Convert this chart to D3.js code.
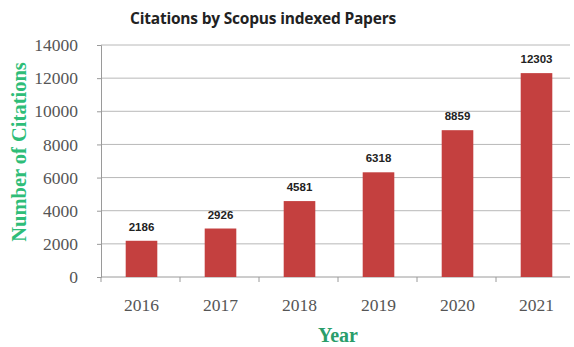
<!DOCTYPE html>
<html><head><meta charset="utf-8">
<script src="https://cdn.jsdelivr.net/npm/d3@7"></script>
<style>body{margin:0;background:#fff}</style>
</head><body>
<svg id="c" width="574" height="347"></svg>
<script>
const years = ["2016","2017","2018","2019","2020","2021"];
const citations = [2186, 2926, 4581, 6318, 8859, 12303];
const yTicks = [0,2000,4000,6000,8000,10000,12000,14000];

const svg = d3.select("#c");
const m = {l:101, r:570, t:45, b:277};
const x = d3.scaleBand().domain(years).range([m.l + 1, m.r + 6]).paddingInner(0.6).paddingOuter(0.3);
const y = d3.scaleLinear().domain([0,14000]).range([m.b, m.t]);

// gridlines
svg.append("g").selectAll("line").data(yTicks.filter(d=>d>0)).join("line")
  .attr("x1", m.l).attr("x2", m.r).attr("y1", d=>y(d)).attr("y2", d=>y(d))
  .attr("stroke", "#b8b8b8").attr("stroke-width", 1);

// y axis
const ya = svg.append("g").attr("transform", `translate(${m.l},0)`)
  .call(d3.axisLeft(y).tickValues(yTicks).tickFormat(d3.format("d")).tickSize(4).tickPadding(19));
ya.select(".domain").attr("stroke", "#9a9a9a");
ya.selectAll(".tick line").attr("stroke", "#9a9a9a");
ya.selectAll("text").attr("font-family", "Liberation Serif, serif").attr("font-size", 17.5).attr("fill", "#555");

// x axis
const step = x.step();
svg.append("line").attr("x1", m.l).attr("x2", m.r).attr("y1", m.b).attr("y2", m.b).attr("stroke", "#9a9a9a");
svg.append("g").selectAll("line").data(d3.range(0,6)).join("line")
  .attr("x1", d=>m.l + d*step).attr("x2", d=>m.l + d*step).attr("y1", m.b).attr("y2", m.b+5).attr("stroke", "#9a9a9a");
svg.append("g").selectAll("text").data(years).join("text")
  .attr("x", d=>x(d)+x.bandwidth()/2).attr("y", 311).attr("text-anchor", "middle")
  .attr("font-family", "Liberation Serif, serif").attr("font-size", 17.5).attr("fill", "#555").text(d=>d);

// bars
svg.append("g").selectAll("rect").data(years).join("rect")
  .attr("x", d=>x(d)).attr("width", x.bandwidth())
  .attr("y", (d,i)=>y(citations[i])).attr("height", (d,i)=>m.b - y(citations[i]))
  .attr("fill", "#c4403f");

// value labels
svg.append("g").selectAll("text").data(years).join("text")
  .attr("x", d=>x(d)+x.bandwidth()/2).attr("y", (d,i)=>y(citations[i]) - 10)
  .attr("text-anchor", "middle").attr("font-family", "Liberation Sans, Arial, sans-serif")
  .attr("font-weight", "bold").attr("font-size", 11.5).attr("fill", "#222")
  .text((d,i)=>citations[i]);

// title
svg.append("text").attr("x", 263).attr("y", 24).attr("text-anchor", "middle")
  .attr("font-family", "Open Sans, sans-serif").attr("font-weight", "bold").attr("font-size", 15.5).attr("fill", "#222")
  .attr("letter-spacing", -0.2)
  .text("Citations by Scopus indexed Papers");

// axis titles
svg.append("text").attr("transform", "translate(26,152) rotate(-90)").attr("text-anchor", "middle")
  .attr("font-family", "Liberation Serif, serif").attr("font-weight", "bold").attr("font-size", 20.5).attr("fill", "#2ebd78")
  .text("Number of Citations");
svg.append("text").attr("x", 338).attr("y", 342).attr("text-anchor", "middle")
  .attr("font-family", "Liberation Serif, serif").attr("font-weight", "bold").attr("font-size", 20).attr("fill", "#2a9d6a")
  .text("Year");
</script>
</body></html>
